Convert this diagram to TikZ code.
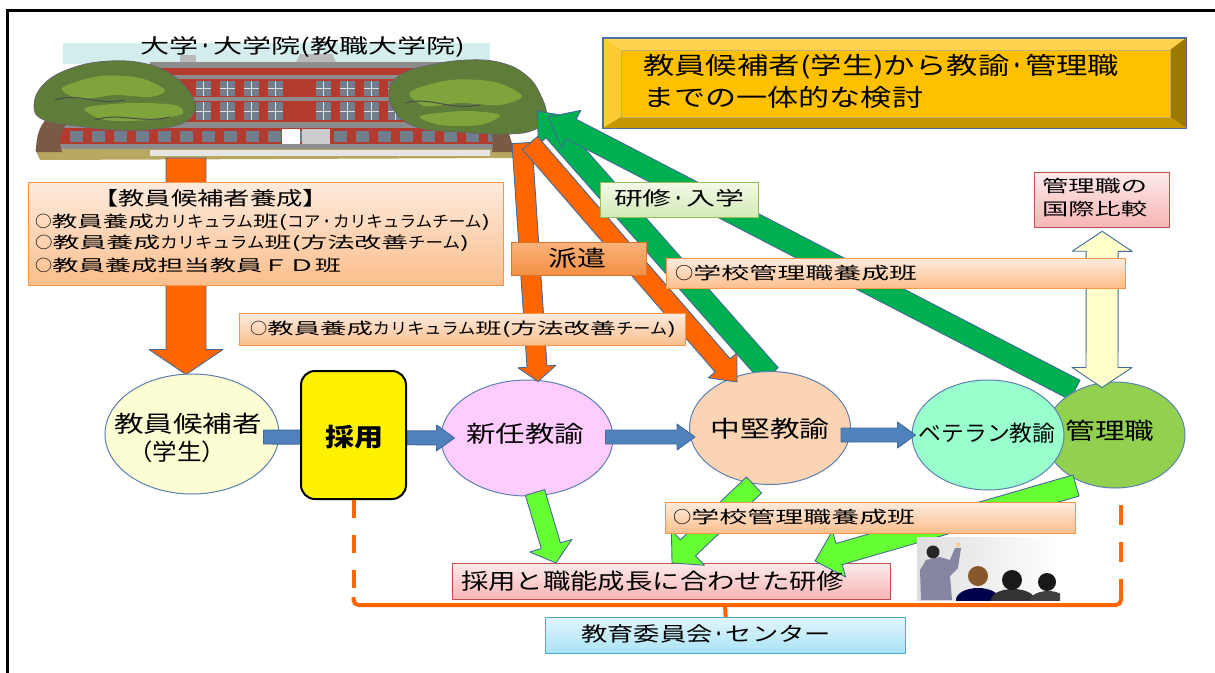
\documentclass[tikz,border=0pt]{standalone}
\usepackage{fontspec}
\usepackage{graphicx}
\setmainfont{Noto Sans CJK JP}
\usetikzlibrary{shapes.geometric,calc}
\pgfdeclarelayer{bottom}
\pgfdeclarelayer{back}
\pgfsetlayers{bottom,back,main}
\definecolor{oTop}{HTML}{FEEBDD}
\definecolor{oBot}{HTML}{FBBE8C}
\definecolor{oBorder}{HTML}{F79646}
\definecolor{gTop}{HTML}{F2F9E8}
\definecolor{gBot}{HTML}{D3EBB4}
\definecolor{gBorder}{HTML}{9BBB59}
\definecolor{pTop}{HTML}{FDEAEA}
\definecolor{pBot}{HTML}{F7B4B4}
\definecolor{pBorder}{HTML}{C0504D}
\definecolor{cTop}{HTML}{E2F5FC}
\definecolor{cBot}{HTML}{A9E3F5}
\definecolor{cBorder}{HTML}{4BACC6}
\definecolor{hkTop}{HTML}{FAB27A}
\definecolor{hkBot}{HTML}{F38F43}
\definecolor{hkBorder}{HTML}{D9752E}
\definecolor{arrowline}{HTML}{44699B}
\definecolor{orangeA}{HTML}{FF6600}
\definecolor{greenD}{HTML}{00B050}
\definecolor{greenL}{HTML}{66FF33}
\definecolor{blueA}{HTML}{4F81BD}
\definecolor{paleY}{HTML}{FFFFCC}
\definecolor{ellB}{HTML}{5B80B2}
\definecolor{kouhoC}{HTML}{FDFDD4}
\definecolor{shinninC}{HTML}{FFCCFF}
\definecolor{chukenC}{HTML}{FBD4B4}
\definecolor{veteranC}{HTML}{99FFCC}
\definecolor{kanriC}{HTML}{92D050}
\definecolor{brkC}{HTML}{FF6600}
\definecolor{goldF}{HTML}{FFC000}
\definecolor{goldT}{HTML}{FFD34D}
\definecolor{goldL}{HTML}{FFCB33}
\definecolor{goldR}{HTML}{9C7A00}
\definecolor{goldB}{HTML}{C69500}
\definecolor{goldLine}{HTML}{4F6FA8}
\definecolor{skyC}{HTML}{D3EEEC}
\definecolor{bldred}{HTML}{B23A2E}
\definecolor{bldgrey}{HTML}{8C8C8C}
\definecolor{winC}{HTML}{6E7E8C}
\definecolor{groundC}{HTML}{B7A760}
\definecolor{trunkC}{HTML}{7A5A44}
\definecolor{treeD}{HTML}{5E7D38}
\definecolor{treeL}{HTML}{7FA43C}
\newcommand\fw[2]{\resizebox{#1pt}{\height}{#2}}
\newcommand\kk[1]{\scalebox{0.65}[1]{#1}}
\newcommand\nd{\scalebox{0.5}[1]{・}}
\newcommand\fs[1]{\fontsize{#1}{#1}\selectfont}
\newcommand\arrprep[2]{%
  \path let \p1=#1, \p2=#2 in \pgfextra{%
    \pgfmathsetmacro\tA{atan2(\y2-\y1,\x2-\x1)}\global\let\bA\tA
    \pgfmathsetmacro\tL{veclen(\x2-\x1,\y2-\y1)}\global\let\bL\tL
    \xdef\bX{\x1}\xdef\bY{\y1}};%
}
\newcommand\barrow[6]{%
  \arrprep{#2}{#3}%
  \path[#1,shift={(\bX,\bY)},rotate=\bA]
    (0pt,-#4pt) -- ({\bL pt-#6pt},-#4pt) -- ({\bL pt-#6pt},-#5pt) -- (\bL pt,0pt)
    -- ({\bL pt-#6pt},#5pt) -- ({\bL pt-#6pt},#4pt) -- (0pt,#4pt) -- cycle;
}
\newcommand\dbarrow[6]{%
  \arrprep{#2}{#3}%
  \path[#1,shift={(\bX,\bY)},rotate=\bA]
    (0pt,0pt) -- (#6pt,-#5pt) -- (#6pt,-#4pt) -- ({\bL pt-#6pt},-#4pt) -- ({\bL pt-#6pt},-#5pt) -- (\bL pt,0pt)
    -- ({\bL pt-#6pt},#5pt) -- ({\bL pt-#6pt},#4pt) -- (#6pt,#4pt) -- (#6pt,#5pt) -- cycle;
}
\begin{document}
\begin{tikzpicture}[x=1pt,y=-1pt,
  arr/.style={draw=arrowline,line width=0.9pt,line join=round},
  ell/.style={ellipse,draw=ellB,line width=1pt,inner sep=0pt},
  t/.style={inner sep=0pt},
  obox/.style={rectangle,inner sep=0pt,anchor=north west,draw=oBorder,line width=1.3pt,top color=oTop,bottom color=oBot},
  gbox/.style={rectangle,inner sep=0pt,anchor=north west,draw=gBorder,line width=1.3pt,top color=gTop,bottom color=gBot},
  pbox/.style={rectangle,inner sep=0pt,anchor=north west,draw=pBorder,line width=1.3pt,top color=pTop,bottom color=pBot},
  cbox/.style={rectangle,inner sep=0pt,anchor=north west,draw=cBorder,line width=1.3pt,top color=cTop,bottom color=cBot},
  brk/.style={draw=brkC,line width=4pt}]
\useasboundingbox (0,0) rectangle (1215,672);
\draw[line width=3pt] (7,673) -- (7,10) -- (1216,10);

% university picture
\node[t,minimum width=510,minimum height=122,anchor=north west] (univ) at (35,38) {};
\coordinate (univS) at (186,158);
\coordinate (univR) at (537,111);
\coordinate (univR2) at (548,117);
\coordinate (univD1) at (522,143);
\coordinate (univD2) at (530,143);
\begin{pgfonlayer}{bottom}
\fill[skyC] (63,43) rectangle (490,64);
\fill[bldgrey] (150,62) rectangle (485,68);
\fill[bldgrey!60] (180,55) rectangle (196,62);
\fill[bldgrey!60] (300,54) -- (332,54) -- (336,62) -- (296,62) -- cycle;
\fill[bldred] (150,68) rectangle (485,124);
\fill[bldgrey] (150,75) rectangle (485,79);
\fill[bldgrey] (150,97) rectangle (485,101);
\foreach \x in {196,220,244,268,316,340,364,388,412,436,460} {
  \fill[winC] (\x,81) rectangle (\x+15,96);
  \fill[winC] (\x,102) rectangle (\x+15,120);
  \draw[gray!25,line width=0.6pt] (\x+7.5,81) -- (\x+7.5,96) (\x,88) -- (\x+15,88)
     (\x+7.5,102) -- (\x+7.5,120) (\x,111) -- (\x+15,111);
}
\fill[bldgrey] (58,122) rectangle (503,128);
\fill[bldred] (58,128) rectangle (503,146);
\foreach \x in {70,92,...,488} { \fill[winC] (\x,131) rectangle (\x+13,142); }
\fill[white] (282,129) rectangle (300,146);
\fill[gray!40] (302,129) rectangle (330,146);
\fill[bldgrey] (58,144) rectangle (503,149);
\fill[groundC] (35,149) -- (522,149) -- (516,158) -- (40,160) -- cycle;
\fill[gray!20] (150,150) rectangle (490,156);
% left tree
\fill[trunkC] (36,152) .. controls (36,135) and (40,122) .. (52,115) -- (72,120) .. controls (60,128) and (58,140) .. (62,152) -- cycle;
\filldraw[fill=treeD,draw=black!60,line width=0.8pt] plot[smooth cycle,tension=0.7] coordinates {(34,106) (44,84) (72,68) (110,61) (147,64) (172,75) (188,90) (195,107) (185,122) (155,129) (115,130) (78,126) (44,120)};
\fill[treeL] plot[smooth cycle] coordinates {(62,88) (100,76) (140,78) (165,90) (150,97) (115,95) (80,99)};
\fill[treeL] plot[smooth cycle] coordinates {(85,108) (130,103) (175,105) (182,114) (150,120) (105,120)};
\draw[black!70,line width=1pt] (55,100) .. controls (80,92) and (95,106) .. (125,100);
\draw[black!70,line width=1pt] (95,120) .. controls (120,112) and (140,124) .. (170,117);
% right tree
\fill[trunkC] (492,152) .. controls (494,140) and (492,130) .. (486,125) -- (505,123) .. controls (510,135) and (512,145) .. (515,152) -- cycle;
\filldraw[fill=treeD,draw=black!60,line width=0.8pt] plot[smooth cycle,tension=0.7] coordinates {(389,90) (402,74) (430,65) (468,60) (502,63) (527,76) (541,96) (546,118) (531,131) (500,134) (460,132) (420,128) (396,113)};
\fill[treeL] plot[smooth cycle] coordinates {(410,92) (450,80) (495,82) (522,96) (500,105) (460,103) (425,106)};
\fill[treeL] plot[smooth cycle] coordinates {(420,116) (465,111) (500,115) (480,125) (440,125)};
\draw[black!70,line width=1pt] (405,103) .. controls (430,96) and (450,111) .. (480,105);
\end{pgfonlayer}
\node[t] (univT) at (303,47) {\fs{20}\fw{325}{大学\nd 大学院(教職大学院)}};

% ellipses
\node[ell,fill=kouhoC,minimum width=174,minimum height=120] (kouho) at (192,434) {};
\node[ell,fill=shinninC,minimum width=172,minimum height=116] (shinnin) at (527,438) {};
\node[ell,fill=chukenC,minimum width=161,minimum height=113] (chuken) at (770,428) {};
\node[ell,fill=kanriC,minimum width=140,minimum height=106] (kanri) at (1115,435) {};
\node[ell,fill=veteranC,minimum width=152,minimum height=110] (veteran) at (988,435) {};

% back arrows
\begin{pgfonlayer}{back}
\barrow{arr,fill=orangeA}{(univS)}{($(kouho.north)+(-6,1)$)}{20}{37}{25}
\barrow{arr,fill=greenD}{($(chuken.north)+(0,4)$)}{(univR)}{11}{21}{26}
\barrow{arr,fill=greenD}{($(kanri.center)+(-40,-45)$)}{(univR2)}{11}{21}{26}
\end{pgfonlayer}

% boxes that arrows point to
\node[pbox,minimum width=438,minimum height=36] (kenshu) at (452,563) {};
\node[pbox,minimum width=135,minimum height=55] (kokusai) at (1034,172) {};

% arrows
\barrow{arr,fill=orangeA}{(univD1)}{($(shinnin.north)+(11,2)$)}{10}{19}{15}
\barrow{arr,fill=orangeA}{(univD2)}{($(chuken.north)+(-33,11)$)}{10}{19}{22}
\barrow{arr,fill=blueA}{($(kouho.east)+(-16,3)$)}{($(shinnin.west)+(14,0)$)}{7}{13}{18}
\barrow{arr,fill=blueA}{($(shinnin.east)+(-8,-1)$)}{($(chuken.west)+(6,9)$)}{7}{13}{18}
\barrow{arr,fill=blueA}{($(chuken.east)+(-10,7)$)}{($(veteran.west)+(4,0)$)}{7}{13}{18}
\barrow{arr,fill=greenL}{($(shinnin.south)+(8,-4)$)}{($(kenshu.north west)+(104,0)$)}{10}{22}{18}
\barrow{arr,fill=greenL}{($(chuken.south)+(-16,0)$)}{($(kenshu.north west)+(220,0)$)}{11}{24}{22}
\barrow{arr,fill=greenL}{($(kanri.south)+(-39,-3)$)}{($(kenshu.north west)+(363,-2)$)}{11}{24}{25}
\dbarrow{arr,fill=paleY}{($(kokusai.south)+(0,3)$)}{($(kanri.north)+(-13,6)$)}{16}{30}{20}

% boxes
\node[obox,minimum width=475,minimum height=103] (kbox) at (28,182) {};
\node[obox,minimum width=446,minimum height=32] (hbox) at (239,313) {};
\node[obox,minimum width=459,minimum height=30] (kubox) at (666,258) {};
\node[obox,minimum width=410,minimum height=31] (klbox) at (665,502) {};
\node[gbox,minimum width=158,minimum height=35] (nybox) at (600,182) {};
\node[rectangle,inner sep=0pt,anchor=north west,draw=hkBorder,line width=1.3pt,top color=hkTop,bottom color=hkBot,minimum width=135,minimum height=33] (hkbox) at (511,242) {};
\node[cbox,minimum width=360,minimum height=36] (board) at (545,617) {};
\node[rectangle,rounded corners=14pt,draw=black,line width=2pt,fill=yellow,minimum width=105,minimum height=128] (saiyo) at (353.5,435) {};

% gold bevel box
\node[rectangle,inner sep=0pt,anchor=north west,fill=goldF,minimum width=583,minimum height=90] (gold) at (603,38) {};
\fill[goldT] (603,38) -- (1186,38) -- (1170,50) -- (621,50) -- cycle;
\fill[goldL] (603,38) -- (621,50) -- (621,117) -- (603,128) -- cycle;
\fill[goldR] (1186,38) -- (1186,128) -- (1170,117) -- (1170,50) -- cycle;
\fill[goldB] (603,128) -- (621,117) -- (1170,117) -- (1186,128) -- cycle;
\draw[goldR!60,line width=0.6pt] (621,50) rectangle (1170,117);
\draw[goldLine,line width=1.2pt] (gold.north west) rectangle (gold.south east);

% bracket lines
\coordinate (brkL) at (353.5,605);
\coordinate (brkR) at (1121,605);
\coordinate (brkRtop) at (1121,492);
\coordinate (brkM) at (725,605);
\draw[brk,dash pattern=on 18pt off 17pt] (saiyo.south) -- ($(brkL)+(0,-6)$);
\draw[brk,rounded corners=5pt] ($(brkL)+(0,-8)$) -- (brkL) -- (brkR) -- ($(brkR)+(0,-8)$);
\draw[brk,dash pattern=on 20pt off 17pt] ($(brkR)+(0,-6)$) -- (brkRtop);
\draw[brk] (brkM) -- (board.north);

% photo
\begin{scope}
\clip (917,537) rectangle (1060,600);
\shade[left color=gray!25,right color=white] (917,537) rectangle (1060,600);
\fill[gray!70!blue!60!black!60] (921,600) -- (920,570) -- (926,560) -- (940,557) -- (950,560) -- (955,548) -- (961,548) -- (958,568) -- (950,576) -- (952,600) -- cycle;
\fill[black!85] (933,552) circle (6.5);
\fill[orange!40!white] (958,545) circle (2.5);
\fill[blue!30!black] (978,600) ellipse (22 and 12);
\fill[brown!70!black] (978,576) circle (10);
\fill[black!80] (1013,600) ellipse (22 and 11);
\fill[black!90] (1012,580) circle (10);
\fill[black!75] (1048,601) ellipse (18 and 10);
\fill[black!90] (1047,582) circle (9);
\end{scope}

% texts
\node[t,anchor=west] (kbT0) at (92,198) {\fs{19}\fw{237}{【教員候補者養成】}};
\node[t,anchor=west] (kbT1) at (35,222) {\fs{16}\fw{455}{\kk{○}教員養成\kk{カリキュラム}班(\kk{コア}\nd\kk{カリキュラムチーム})}};
\node[t,anchor=west] (kbT2) at (35,243) {\fs{16}\fw{434}{\kk{○}教員養成\kk{カリキュラム}班(方法改善\kk{チーム})}};
\node[t,anchor=west] (kbT3) at (35,265) {\fs{16}\fw{306}{\kk{○}教員養成担当教員ＦＤ班}};
\node[t,anchor=west] (hbT) at (250,329) {\fs{16}\fw{426}{\kk{○}教員養成\kk{カリキュラム}班(方法改善\kk{チーム})}};
\node[t,anchor=west] (kuT) at (675,273) {\fs{17}\fw{242}{\kk{○}学校管理職養成班}};
\node[t,anchor=west] (klT) at (673,517) {\fs{17}\fw{242}{\kk{○}学校管理職養成班}};
\node[t] (nyT) at (679,198) {\fs{19}\fw{130}{研修\nd 入学}};
\node[t] (hkT) at (577,258) {\fs{22}\fw{58}{派遣}};
\node[t,anchor=west] (gT1) at (643,67) {\fs{24}\fw{476}{教員候補者(学生)から教諭\nd 管理職}};
\node[t,anchor=west] (gT2) at (643,97) {\fs{24}\fw{280}{までの一体的な検討}};
\node[t,anchor=west] (kkT1) at (1042,186) {\fs{17}\fw{105}{管理職の}};
\node[t,anchor=west] (kkT2) at (1042,209) {\fs{17}\fw{105}{国際比較}};
\node[t,anchor=west] (ksT) at (461,581) {\fs{22}\fw{383}{採用と職能成長に合わせた研修}};
\node[t,anchor=west] (bdT) at (581,634) {\fs{20}\fw{250}{教育委員会\nd センター}};
\node[t] (kouhoT1) at (188,424) {\fs{23}\fw{148}{教員候補者}};
\node[t] (kouhoT2) at (177,452) {\fs{23}\fw{98}{（学生）}};
\node[t] (shinninT) at (525,434) {\fs{23}\fw{118}{新任教諭}};
\node[t] (chukenT) at (770,429) {\fs{23}\fw{119}{中堅教諭}};
\node[t] (veteranT) at (987,433) {\fs{22}\fw{137}{ベテラン教諭}};
\node[t] (kanriT) at (1110,431) {\fs{23}\fw{89}{管理職}};
\node[t] (saiyoT) at (354,437) {\fs{25}\bfseries\fw{58}{採用}};
\end{tikzpicture}
\end{document}
